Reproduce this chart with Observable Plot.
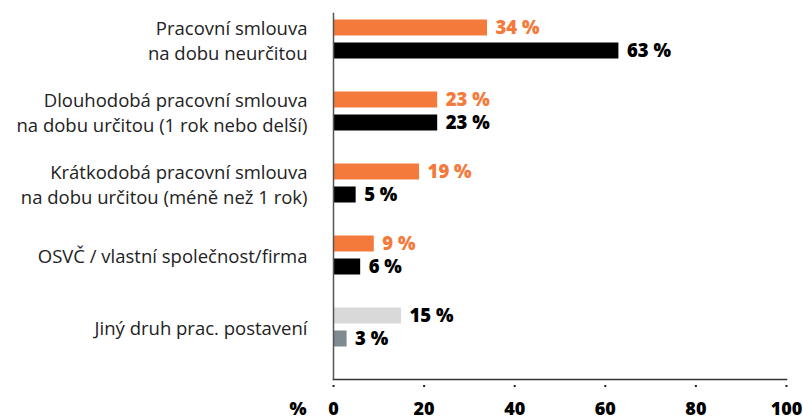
<!DOCTYPE html>
<html>
<head>
<meta charset="utf-8">
<script src="https://cdn.jsdelivr.net/npm/d3@7"></script>
<script src="https://cdn.jsdelivr.net/npm/@observablehq/plot@0.6"></script>
<style>
  html, body { margin: 0; padding: 0; background: #fff; }
  #chart svg { display: block; }
</style>
</head>
<body>
<div id="chart"></div>
<script>
const categories = [
  "Pracovní smlouva\nna dobu neurčitou",
  "Dlouhodobá pracovní smlouva\nna dobu určitou (1 rok nebo delší)",
  "Krátkodobá pracovní smlouva\nna dobu určitou (méně než 1 rok)",
  "OSVČ / vlastní společnost/firma",
  "Jiný druh prac. postavení"
];
const seriesA = [34, 23, 19, 9, 15];
const seriesB = [63, 23, 5, 6, 3];
const xTicks = [0, 20, 40, 60, 80, 100];
const unitLabel = "%";
const otherCategory = "Jiný druh prac. postavení";

const rows = categories.map((c, i) => ({category: c, a: seriesA[i], b: seriesB[i]}));

const ORANGE = "#f47a3c";
const labelFont = "'Open Sans', Lato, sans-serif";
const numFont = "'Open Sans', Lato, sans-serif";

const chart = Plot.plot({
  width: 803,
  height: 419,
  marginTop: 13,
  marginBottom: 40,
  marginLeft: 333,
  marginRight: 17,
  style: {fontFamily: labelFont, background: "#fff"},
  x: {domain: [0, 100]},
  y: {domain: categories, range: [2.5, 362.5], padding: 0},
  marks: [
    Plot.barX(rows, {
      y: "category", x: "a", insetTop: 16.5, insetBottom: 39.5,
      fill: d => d.category === otherCategory ? "#d9d9d9" : ORANGE
    }),
    Plot.barX(rows, {
      y: "category", x: "b", insetTop: 39.5, insetBottom: 16.5,
      fill: d => d.category === otherCategory ? "#7f8a91" : "#000"
    }),
    Plot.text(rows, {
      y: "category", x: "a", dy: -11.5, dx: 8, textAnchor: "start",
      text: d => `${d.a} %`, fontSize: 18.5, fontWeight: 800, fontFamily: numFont,
      fill: d => d.category === otherCategory ? "#000" : ORANGE
    }),
    Plot.text(rows, {
      y: "category", x: "b", dy: 11.5, dx: 8, textAnchor: "start",
      text: d => `${d.b} %`, fontSize: 18.5, fontWeight: 800, fontFamily: numFont, fill: "#000"
    }),
    Plot.axisY({
      tickSize: 0, tickPadding: 26, fontSize: 18.5, fill: "#222",
      label: null, lineHeight: 1.32
    }),
    Plot.axisX({
      ticks: xTicks, tickSize: 17, tickFormat: () => "",
      stroke: "#222", strokeWidth: 2, strokeDasharray: "0,6,2,6", label: null
    }),
    Plot.axisX({
      ticks: xTicks, tickSize: 0, tickPadding: 23, fontSize: 18, fontWeight: 800,
      fontFamily: numFont, fill: "#000", label: null
    }),
    Plot.text([unitLabel], {
      frameAnchor: "bottom-left", dx: -44, dy: 35, text: d => d,
      fontSize: 18, fontWeight: 800, fontFamily: numFont, fill: "#000"
    }),
    Plot.frame({anchor: "bottom", stroke: "#333", strokeWidth: 1.5}),
    Plot.frame({anchor: "left", stroke: "#555", strokeWidth: 1.5})
  ]
});
document.getElementById("chart").appendChild(chart);
</script>
</body>
</html>
